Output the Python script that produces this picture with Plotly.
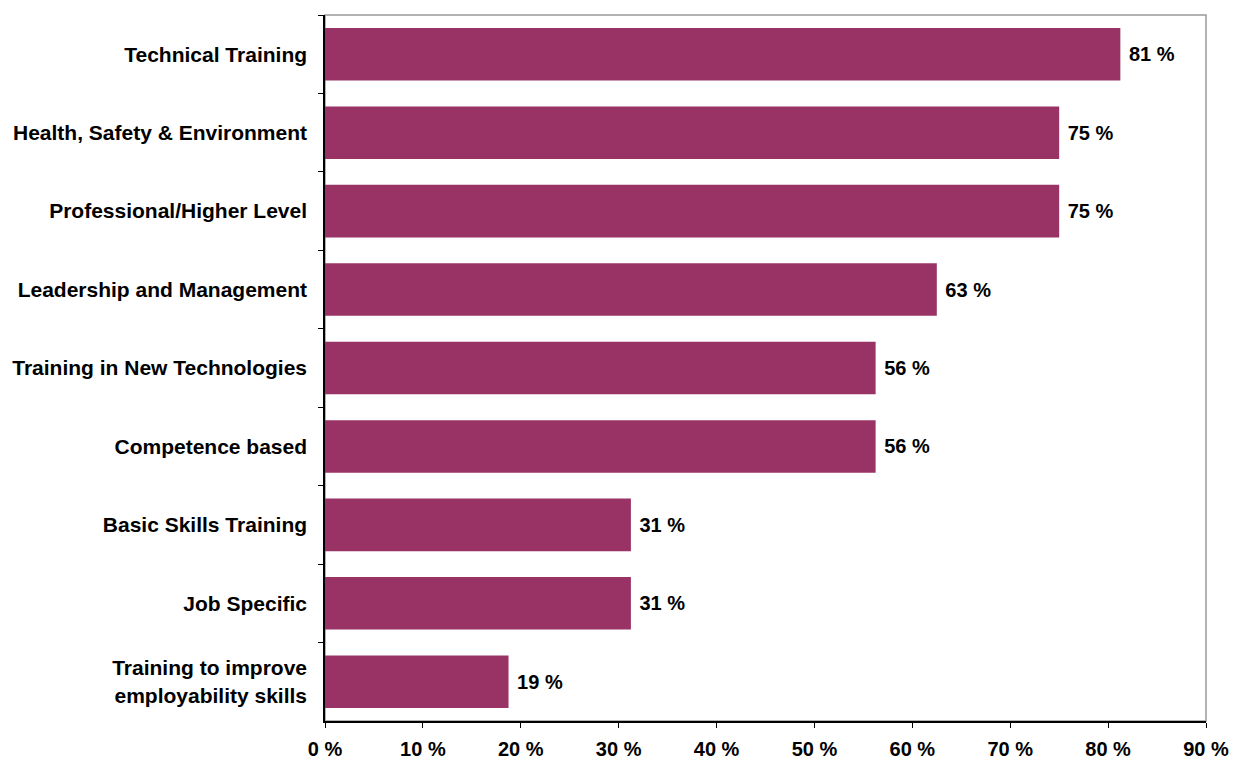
import plotly.graph_objects as go

categories = [
    "Technical Training",
    "Health, Safety & Environment",
    "Professional/Higher Level",
    "Leadership and Management",
    "Training in New Technologies",
    "Competence based",
    "Basic Skills Training",
    "Job Specific",
    "Training to improve<br>employability skills",
]
values = [81.25, 75, 75, 62.5, 56.25, 56.25, 31.25, 31.25, 18.75]
value_labels = ["81 %", "75 %", "75 %", "63 %", "56 %", "56 %", "31 %", "31 %", "19 %"]
x_ticks = [0, 10, 20, 30, 40, 50, 60, 70, 80, 90]
x_tick_labels = [f"{t} %" for t in x_ticks]

font_family = "Liberation Sans, Arial, sans-serif"

fig = go.Figure(
    go.Bar(
        y=categories,
        x=values,
        orientation="h",
        marker=dict(color="#993366", line=dict(width=0)),
        text=["\u00a0" + s for s in value_labels],
        textposition="outside",
        textfont=dict(family=font_family, size=20, color="black", weight="bold"),
        cliponaxis=False,
    )
)

fig.update_layout(
    width=1235,
    height=762,
    margin=dict(l=325, r=29, t=15, b=41),
    paper_bgcolor="white",
    plot_bgcolor="white",
    bargap=0.33,
    showlegend=False,
    font=dict(family=font_family, size=20, color="black"),
    shapes=[
        dict(type="rect", xref="paper", yref="paper", x0=0, x1=1, y0=0, y1=1,
             line=dict(color="#999999", width=1.5), layer="below"),
    ],
)

fig.update_xaxes(
    range=[0, 90],
    tickvals=x_ticks,
    ticktext=x_tick_labels,
    automargin=False,
    showgrid=False,
    zeroline=False,
    showline=True,
    linecolor="black",
    linewidth=1.5,
    ticks="outside",
    ticklen=5,
    tickcolor="black",
    ticklabelstandoff=4,
    tickfont=dict(family=font_family, size=20, color="black", weight="bold"),
)

fig.update_yaxes(
    categoryorder="array",
    categoryarray=categories,
    autorange="reversed",
    automargin=False,
    showgrid=False,
    zeroline=False,
    showline=True,
    linecolor="black",
    linewidth=1.5,
    ticks="outside",
    ticklen=5,
    tickcolor="black",
    tickson="boundaries",
    ticklabelstandoff=12,
    tickfont=dict(family=font_family, size=21, color="black", weight="bold"),
)

fig.write_html("out.html")
